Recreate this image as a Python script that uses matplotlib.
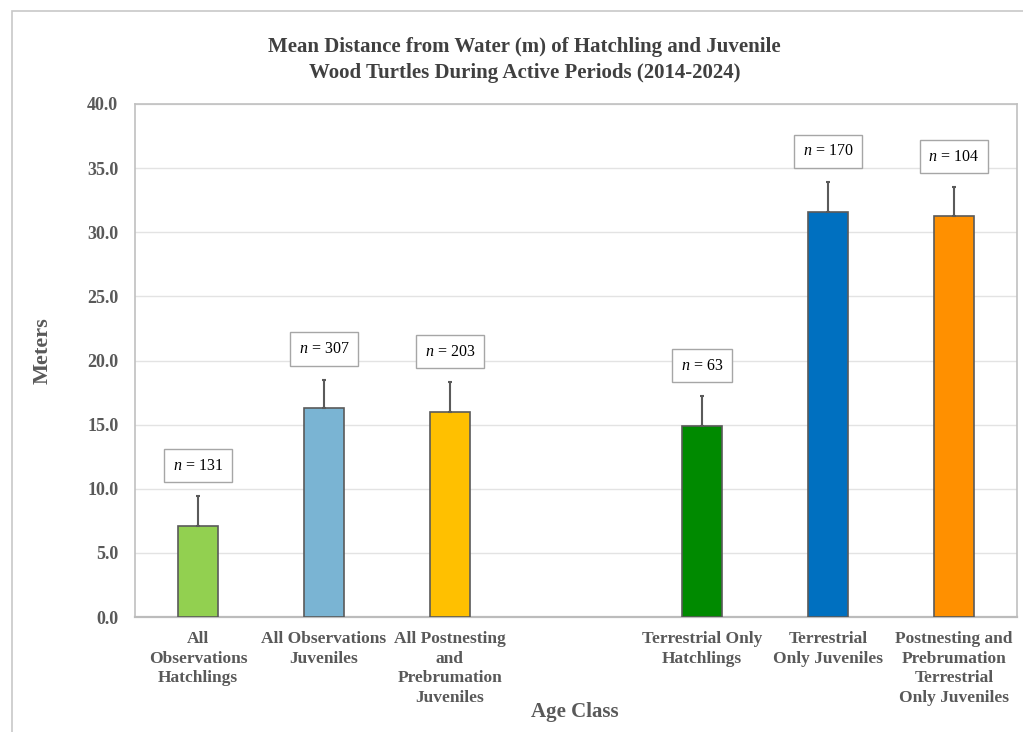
import numpy as np
import matplotlib
matplotlib.use("Agg")
import matplotlib.pyplot as plt
from matplotlib.patches import Rectangle

plt.rcParams["font.family"] = ["Liberation Serif", "DejaVu Serif"]
plt.rcParams["mathtext.fontset"] = "custom"
plt.rcParams["mathtext.it"] = "Liberation Serif:italic"
plt.rcParams["mathtext.rm"] = "Liberation Serif"

categories = [
    "All\nObservations\nHatchlings",
    "All Observations\nJuveniles",
    "All Postnesting\nand\nPrebrumation\nJuveniles",
    "Terrestrial Only\nHatchlings",
    "Terrestrial\nOnly Juveniles",
    "Postnesting and\nPrebrumation\nTerrestrial\nOnly Juveniles",
]
means = [7.1, 16.3, 16.0, 14.9, 31.6, 31.3]
errors = [2.3, 2.2, 2.3, 2.3, 2.3, 2.2]
ns = [131, 307, 203, 63, 170, 104]
colors = ["#92d050", "#7ab4d3", "#ffc000", "#008a00", "#0070c0", "#ff9000"]

TEXT = "#404040"
TICK = "#595959"
EDGE = "#5a5a5a"

# leave an empty slot between the "all" group and the "terrestrial" group
x = np.arange(len(categories)) + np.array([0, 0, 0, 1, 1, 1])

fig = plt.figure(figsize=(10.23, 7.32), dpi=100)
ax = fig.add_axes([0.132, 0.157, 0.862, 0.701])

ax.bar(x, means, width=0.32, color=colors, edgecolor=EDGE, linewidth=1.2, zorder=3)
ax.errorbar(x, means, yerr=[np.zeros(len(errors)), errors], fmt="none",
            ecolor=EDGE, elinewidth=1.5, capsize=1.5, capthick=1.5, zorder=4)

for xi, m, e, n in zip(x, means, errors, ns):
    ax.text(xi, m + e + 2.4, f"$\\it{{n}}$ = {n}", ha="center", va="center",
            fontsize=11.5, color="black", zorder=5,
            bbox=dict(boxstyle="square,pad=0.55", fc="white", ec="#a6a6a6", lw=1))

ax.set_xlim(-0.5, 6.5)
ax.set_ylim(0, 40)
ax.set_yticks(np.arange(0, 40.1, 5))
ax.set_yticklabels([f"{v:.1f}" for v in np.arange(0, 40.1, 5)])
ax.set_xticks(x)
ax.set_xticklabels(categories, linespacing=1.3)
ax.tick_params(length=0, colors=TICK, labelsize=12.5, pad=10)
ax.tick_params(axis="y", labelsize=13, pad=12)
for lab in ax.get_xticklabels() + ax.get_yticklabels():
    lab.set_fontweight("bold")

ax.grid(axis="y", color="#e3e3e3", lw=1, zorder=0)
ax.set_axisbelow(True)
for s in ax.spines.values():
    s.set_color("#c0c0c0")
    s.set_linewidth(1.2)
ax.spines["bottom"].set_color("#bcbcbc")
ax.spines["bottom"].set_linewidth(1.6)

ax.set_ylabel("Meters", fontsize=16, fontweight="bold", color=TICK)
ax.yaxis.set_label_coords(-0.094, 0.52)
fig.text(0.562, 0.027, "Age Class", ha="center", va="center",
         fontsize=15, fontweight="bold", color=TICK)

fig.text(0.513, 0.918, "Mean Distance from Water (m) of Hatchling and Juvenile\n"
         "Wood Turtles During Active Periods (2014-2024)",
         ha="center", va="center", fontsize=15, fontweight="bold",
         color=TEXT, linespacing=1.35)

# outer chart frame
fig.patches.append(Rectangle((12 / 1023, -0.05), 1.1, 0.05 + (732 - 11) / 732,
                             transform=fig.transFigure, fill=False,
                             ec="#c8c8c8", lw=1.2))

fig.savefig("out.png", dpi=100)
